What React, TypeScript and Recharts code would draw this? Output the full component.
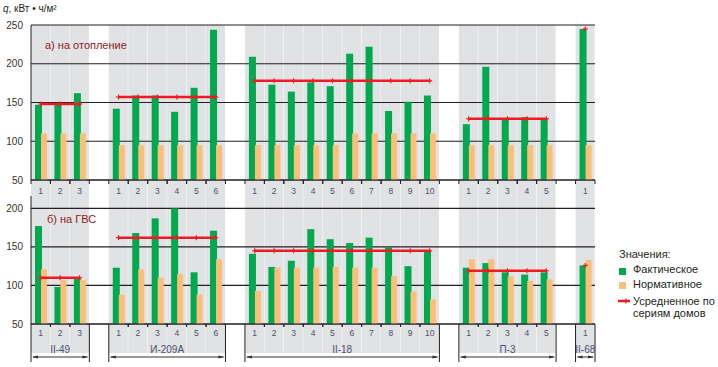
import React from "react";
import { ComposedChart, BarChart, Bar, Line, XAxis, YAxis, CartesianGrid } from "recharts";

const W = 718;
const H = 367;
const PLOT_LEFT = 31;
const PLOT_RIGHT = 595;

const GREEN = "#00a94f";
const ORANGE = "#fdbe79";
const RED = "#ed1c24";
const GREY = "#e1e2e4";
const INK = "#231f20";
const TICK_INK = "#4f4f72";
const PANEL_INK = "#8e1b22";
const FONT = "'Liberation Sans', Arial, sans-serif";

// house series and number of houses in each
const groups = ["II-49", "И-209А", "II-18", "П-3", "II-68"];
const houseCounts = [3, 6, 10, 5, 1];

// а) heating
const heatFact = [147, 148, 162, 142, 159, 159, 138, 169, 244, 209, 173, 164, 176, 171, 213, 222, 139, 151, 159, 122, 196, 129, 131, 129, 245];
const heatNorm = [110, 110, 110, 95, 95, 95, 95, 95, 95, 95, 95, 95, 95, 95, 110, 110, 110, 110, 110, 95, 95, 95, 95, 95, 95];
const heatAvg = [148, 157, 178, 129, 245];
const heatTicks = [50, 100, 150, 200, 250];
const heatDomain: [number, number] = [50, 250];

// б) hot water
const waterFact = [177, 98, 109, 123, 168, 187, 200, 117, 171, 141, 124, 132, 173, 160, 155, 162, 150, 125, 145, 123, 129, 117, 114, 117, 126];
const waterNorm = [121, 107, 107, 88, 121, 110, 115, 88, 134, 93, 123, 123, 123, 124, 123, 123, 112, 92, 82, 134, 134, 112, 106, 108, 133];
const waterAvg = [110, 162, 145, 119, 126];
const waterTicks = [50, 100, 150, 200];
const waterDomain: [number, number] = [50, 216];

type Slot = {
  key: string;
  num: string;
  group: number;
  pos: number;
  gap: boolean;
  bg: number;
  hf: number | null;
  hn: number | null;
  ha: number | null;
  wf: number | null;
  wn: number | null;
  wa: number | null;
};

// one slot per house, plus an empty slot between series
const slots: Slot[] = [];
let h = 0;
groups.forEach((g, gi) => {
  for (let i = 0; i < houseCounts[gi]; i++) {
    slots.push({
      key: `${g}-${i + 1}`, num: String(i + 1), group: gi, pos: i, gap: false, bg: 1,
      hf: heatFact[h], hn: heatNorm[h], ha: heatAvg[gi],
      wf: waterFact[h], wn: waterNorm[h], wa: waterAvg[gi],
    });
    h++;
  }
  if (gi < groups.length - 1) {
    slots.push({
      key: `gap-${gi}`, num: "", group: -1, pos: -1, gap: true, bg: 0,
      hf: null, hn: null, ha: null, wf: null, wn: null, wa: null,
    });
  }
});
const slotByKey = new Map(slots.map((s) => [s.key, s]));
const BAND = (PLOT_RIGHT - PLOT_LEFT) / slots.length;

// horizontal grid only at the labelled ticks (not at the domain top)
const gridAt = (ticks: number[], [lo, hi]: [number, number]) => (p: any) => {
  const o = p?.offset;
  if (!o) return [];
  return ticks.map((t) => o.top + (o.height * (hi - t)) / (hi - lo));
};

function HeatTick(props: any) {
  const { x, y, payload } = props;
  const s = slotByKey.get(payload.value);
  if (!s || s.gap) return <g />;
  const l = x - BAND / 2;
  const r = x + BAND / 2;
  return (
    <g>
      <line x1={l} x2={l} y1={y} y2={y + 4} stroke={INK} />
      <line x1={r} x2={r} y1={y} y2={y + 4} stroke={INK} />
      <text x={x} y={y + 14} textAnchor="middle" fontSize={8.5} fill={TICK_INK} fontFamily={FONT}>
        {s.num}
      </text>
    </g>
  );
}

function WaterTick(props: any) {
  const { x, y, payload } = props;
  const s = slotByKey.get(payload.value);
  if (!s || s.gap) return <g />;
  const n = houseCounts[s.group];
  const l = x - BAND / 2;
  const r = x + BAND / 2;
  const first = s.pos === 0;
  const last = s.pos === n - 1;
  const ay = y + 33;
  const gl = l;
  const gr = l + n * BAND;
  return (
    <g>
      <line x1={l} x2={l} y1={y} y2={y + (first ? 38 : 3)} stroke={INK} />
      <line x1={r} x2={r} y1={y} y2={y + (last ? 38 : 3)} stroke={INK} />
      <text x={x} y={y + 12} textAnchor="middle" fontSize={8.5} fill={TICK_INK} fontFamily={FONT}>
        {s.num}
      </text>
      {first && (
        <g>
          <text x={(gl + gr) / 2} y={y + 29} textAnchor="middle" fontSize={10} fill={TICK_INK} fontFamily={FONT}>
            {groups[s.group]}
          </text>
          <line x1={gl + 2} x2={gr - 2} y1={ay} y2={ay} stroke="#333" strokeWidth={1} />
          <polygon points={`${gl + 1},${ay} ${gl + 7},${ay - 1.6} ${gl + 7},${ay + 1.6}`} fill="#333" />
          <polygon points={`${gr - 1},${ay} ${gr - 7},${ay - 1.6} ${gr - 7},${ay + 1.6}`} fill="#333" />
        </g>
      )}
    </g>
  );
}

function AvgDot(props: any) {
  const { cx, cy } = props;
  if (cx == null || cy == null || Number.isNaN(cy)) return <g />;
  return (
    <g>
      <line x1={cx} x2={cx} y1={cy - 2.5} y2={cy + 2.5} stroke={RED} strokeWidth={1.2} />
      <line x1={cx - 2.5} x2={cx + 2.5} y1={cy} y2={cy} stroke={RED} strokeWidth={1.2} />
    </g>
  );
}

const abs = (top: number): React.CSSProperties => ({ position: "absolute", left: 0, top });

export default function App() {
  return (
    <div style={{ position: "absolute", left: 0, top: 0, width: W, height: H, background: "#fff", fontFamily: FONT }}>
      {/* grey bands behind each house series */}
      <div style={abs(0)}>
        <BarChart width={W} height={H} data={slots} barCategoryGap={0}
          margin={{ top: 25, right: W - PLOT_RIGHT, bottom: 14, left: PLOT_LEFT }}>
          <XAxis dataKey="key" hide />
          <YAxis hide domain={[0, 1]} />
          <Bar dataKey="bg" fill={GREY} isAnimationActive={false} />
        </BarChart>
      </div>

      {/* а) на отопление */}
      <div style={abs(0)}>
        <ComposedChart width={W} height={200} data={slots} barGap={-1}
          margin={{ top: 25, right: W - PLOT_RIGHT, bottom: 0, left: 0 }}>
          <CartesianGrid vertical={false} stroke={INK} strokeWidth={1.2}
            horizontalCoordinatesGenerator={gridAt(heatTicks, heatDomain)} />
          <XAxis dataKey="key" height={20} interval={0} tickSize={0} tickMargin={0}
            tickLine={false} axisLine={{ stroke: INK }} tick={(p: any) => <HeatTick {...p} />} />
          <YAxis width={31} domain={heatDomain} ticks={heatTicks} tickLine={false}
            axisLine={{ stroke: INK }} tick={{ fontSize: 10, fill: "#333", fontFamily: FONT }} />
          <Bar dataKey="hf" fill={GREEN} barSize={7} isAnimationActive={false} />
          <Bar dataKey="hn" fill={ORANGE} barSize={6} isAnimationActive={false} />
          <Line dataKey="ha" stroke={RED} strokeWidth={2.5} dot={(p: any) => <AvgDot key={p.key} {...p} />}
            activeDot={false} isAnimationActive={false} />
        </ComposedChart>
      </div>

      {/* б) на ГВС */}
      <div style={abs(180)}>
        <ComposedChart width={W} height={187} data={slots} barGap={-1}
          margin={{ top: 16, right: W - PLOT_RIGHT, bottom: 0, left: 0 }}>
          <CartesianGrid vertical={false} stroke={INK} strokeWidth={1.2}
            horizontalCoordinatesGenerator={gridAt(waterTicks, waterDomain)} />
          <XAxis dataKey="key" height={43} interval={0} tickSize={0} tickMargin={0}
            tickLine={false} axisLine={{ stroke: INK }} tick={(p: any) => <WaterTick {...p} />} />
          <YAxis width={31} domain={waterDomain} ticks={waterTicks} tickLine={false}
            axisLine={{ stroke: INK }} tick={{ fontSize: 10, fill: "#333", fontFamily: FONT }} />
          <Bar dataKey="wf" fill={GREEN} barSize={7} isAnimationActive={false} />
          <Bar dataKey="wn" fill={ORANGE} barSize={6} isAnimationActive={false} />
          <Line dataKey="wa" stroke={RED} strokeWidth={2.5} dot={(p: any) => <AvgDot key={p.key} {...p} />}
            activeDot={false} isAnimationActive={false} />
        </ComposedChart>
      </div>

      {/* texts */}
      <div style={{ position: "absolute", left: 3, top: 3, fontSize: 10, lineHeight: "11px", color: INK, whiteSpace: "nowrap" }}>
        <i>q</i>, кВт • ч/м²
      </div>
      <div style={{ position: "absolute", left: 45, top: 40, fontSize: 11, lineHeight: "11px", color: PANEL_INK, whiteSpace: "nowrap" }}>
        а) на отопление
      </div>
      <div style={{ position: "absolute", left: 47, top: 214, fontSize: 11, lineHeight: "11px", color: PANEL_INK, whiteSpace: "nowrap" }}>
        б) на ГВС
      </div>

      {/* legend */}
      <svg width={W} height={H} style={{ position: "absolute", left: 0, top: 0, pointerEvents: "none" }}>
        <g fontFamily={FONT} fontSize={11} fill={INK}>
          <text x={619} y={258}>Значения:</text>
          <rect x={619} y={268} width={7} height={7} fill={GREEN} />
          <text x={633} y={273}>Фактическое</text>
          <rect x={619} y={282} width={7} height={7} fill={ORANGE} />
          <text x={633} y={288}>Нормативное</text>
          <line x1={618} x2={630} y1={301} y2={301} stroke={RED} strokeWidth={2.5} />
          <line x1={626} x2={626} y1={298.5} y2={303.5} stroke={RED} strokeWidth={1.2} />
          <text x={633} y={305}>Усредненное по</text>
          <text x={633} y={317}>сериям домов</text>
        </g>
      </svg>
    </div>
  );
}
